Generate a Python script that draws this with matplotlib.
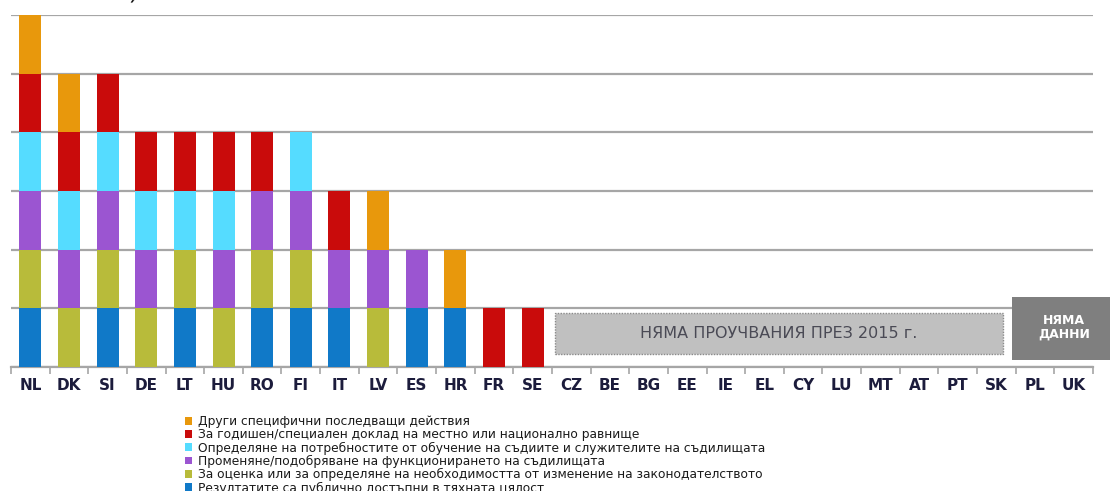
import matplotlib
matplotlib.use("Agg")
import matplotlib.pyplot as plt
from matplotlib.patches import Rectangle, Patch
import numpy as np

countries = ["NL", "DK", "SI", "DE", "LT", "HU", "RO", "FI", "IT", "LV", "ES", "HR",
             "FR", "SE", "CZ", "BE", "BG", "EE", "IE", "EL", "CY", "LU", "MT", "AT",
             "PT", "SK", "PL", "UK"]

# One unit per country and follow-up action (stacked bottom to top)
published = [1, 0, 1, 0, 1, 0, 1, 1, 1, 0, 1, 1, 0, 0] + [0] * 14
legislation = [1, 1, 1, 1, 1, 1, 1, 1, 0, 1, 0, 0, 0, 0] + [0] * 14
courts = [1, 1, 1, 1, 0, 1, 1, 1, 1, 1, 1, 0, 0, 0] + [0] * 14
training = [1, 1, 1, 1, 1, 1, 0, 1, 0, 0, 0, 0, 0, 0] + [0] * 14
report = [1, 1, 1, 1, 1, 1, 1, 0, 1, 0, 0, 0, 1, 1] + [0] * 14
other = [1, 1, 0, 0, 0, 0, 0, 0, 0, 1, 0, 1, 0, 0] + [0] * 14

series = [
    (published, "#1079c8", "Резултатите са публично достъпни в тяхната цялост"),
    (legislation, "#b8bb3a", "За оценка или за определяне на необходимостта от изменение на законодателството"),
    (courts, "#9b55d1", "Променяне/подобряване на функционирането на съдилищата"),
    (training, "#55dcff", "Определяне на потребностите от обучение на съдиите и служителите на съдилищата"),
    (report, "#c90b0b", "За годишен/специален доклад на местно или национално равнище"),
    (other, "#e8980c", "Други специфични последващи действия"),
]

no_survey = "НЯМА ПРОУЧВАНИЯ ПРЕЗ 2015 г."
no_data = "НЯМА\nДАННИ"

plt.rcParams["font.family"] = ["DejaVu Sans"]

fig = plt.figure(figsize=(11.10, 4.91), dpi=100)
ax = fig.add_axes([11 / 1110, 1 - 367 / 491, (1093 - 11) / 1110, (367 - 15) / 491])

x = np.arange(len(countries))
bottom = np.zeros(len(countries))
handles = []
for vals, color, label in series:
    v = np.array(vals, dtype=float)
    ax.bar(x, v, bottom=bottom, width=0.57, color=color, zorder=3)
    bottom += v
    handles.append(Patch(facecolor=color, edgecolor="none", label=label))

ax.set_xlim(-0.5, len(countries) - 0.5)
ax.set_ylim(0, 6)
ax.set_yticks(np.arange(0, 7))
ax.yaxis.grid(True, color="#a6a6a6", linewidth=1.6, zorder=0)
ax.tick_params(axis="y", left=False, labelleft=False)
for s in ["left", "right", "top"]:
    ax.spines[s].set_visible(False)
ax.spines["bottom"].set_color("#a6a6a6")
ax.spines["bottom"].set_linewidth(1.6)
ax.spines["bottom"].set_zorder(1)

ax.set_xticks(x)
ax.set_xticklabels(countries, fontsize=11, fontweight="bold", color="#1c1c3c")
ax.tick_params(axis="x", which="major", length=0, pad=8)
ax.set_xticks(np.arange(-0.5, len(countries)), minor=True)
ax.tick_params(axis="x", which="minor", length=5, width=1.2, color="#a6a6a6")

# Countries without a survey in 2015
ax.add_patch(Rectangle((13.58, 0.22), 25.17 - 13.58, 0.70, facecolor="#c0c0c0",
                       edgecolor="#8a8a8a", linestyle=(0, (1, 1)), linewidth=1.0, zorder=4))
ax.text((13.58 + 25.17) / 2, 0.57, no_survey, ha="center", va="center",
        fontsize=11.5, color="#4a4a55", zorder=5)

# Countries without data
ax.add_patch(Rectangle((25.41, 0.12), 2.6, 1.07, facecolor="#7f7f7f",
                       edgecolor="none", zorder=4, clip_on=False))
ax.text(26.75, 0.68, no_data, ha="center", va="center", fontsize=9,
        fontweight="bold", color="white", linespacing=1.1, zorder=5, clip_on=False)

# Tail of the heading above the chart
fig.text(128 / 1110, 1 - 5 / 491, ")", fontsize=14, color="black",
         ha="left", va="bottom", rotation=-8)

fig.legend(handles=handles[::-1], loc="upper left",
           bbox_to_anchor=(185 / 1110, 1 - 415 / 491), frameon=False,
           fontsize=8.8, handlelength=0.6, handleheight=0.6, handletextpad=0.45,
           labelspacing=0.02, borderaxespad=0, borderpad=0, labelcolor="#1a1a1a")

fig.savefig("out.png", dpi=100)
